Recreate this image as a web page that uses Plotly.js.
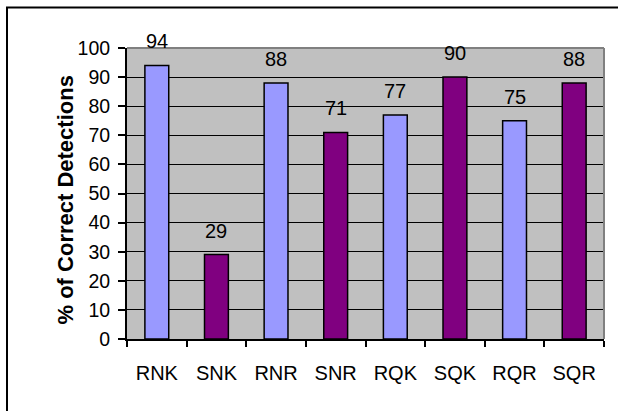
<!DOCTYPE html>
<html>
<head>
<meta charset="utf-8">
<script src="https://cdn.plot.ly/plotly-3.0.1.min.js"></script>
<style>
  html, body { margin: 0; padding: 0; background: #ffffff; }
  #chart { width: 618px; height: 411px; }
</style>
</head>
<body>
<div id="chart"></div>
<script>
const categories = ["RNK", "SNK", "RNR", "SNR", "RQK", "SQK", "RQR", "SQR"];
const values = [94, 29, 88, 71, 77, 90, 75, 88];
const barColors = ["#9999FF", "#800080", "#9999FF", "#800080", "#9999FF", "#800080", "#9999FF", "#800080"];
const yTickValues = [0, 10, 20, 30, 40, 50, 60, 70, 80, 90, 100];
const yAxisTitle = "% of Correct Detections";

const FONT = "Liberation Sans, Arial, sans-serif";

const trace = {
  type: "bar",
  x: categories,
  y: values,
  width: 0.4,
  marker: { color: barColors, line: { color: "#000000", width: 1.5 } },
  hoverinfo: "x+y"
};

const annotations = categories.map((c, i) => ({
  x: c, y: values[i], xref: "x", yref: "y",
  text: String(values[i]), showarrow: false,
  yanchor: "middle", yshift: 24,
  font: { family: FONT, size: 20, color: "#000000" }
}));

// plot area: left 127, right 604, top 48, bottom 339
const pw = 477, ph = 291;
annotations.push({
  xref: "paper", yref: "paper",
  x: (65.5 - 127) / pw, y: (339 - 200) / ph,
  xanchor: "center", yanchor: "middle",
  text: "<b>" + yAxisTitle + "</b>", textangle: -90, showarrow: false,
  font: { family: FONT, size: 22, color: "#000000" }
});

const shapes = [
  { type: "line", xref: "paper", yref: "paper", x0: 0, x1: 1, y0: 1, y1: 1, line: { color: "#808080", width: 2 } },
  { type: "line", xref: "paper", yref: "paper", x0: 1, x1: 1, y0: 0, y1: 1, line: { color: "#808080", width: 2 } },
  { type: "rect", xref: "paper", yref: "paper",
    x0: (7 - 127) / pw, x1: (625 - 127) / pw,
    y0: (339 - 420) / ph, y1: (339 - 7.5) / ph,
    line: { color: "#000000", width: 2 }, fillcolor: "rgba(0,0,0,0)" }
];

const layout = {
  width: 618, height: 411,
  margin: { l: 127, r: 14, t: 48, b: 72, pad: 0 },
  paper_bgcolor: "#ffffff",
  plot_bgcolor: "#C0C0C0",
  showlegend: false,
  font: { family: FONT, size: 20, color: "#000000" },
  xaxis: {
    type: "category",
    tickson: "boundaries",
    ticks: "outside", ticklen: 6, tickwidth: 2, tickcolor: "#000000",
    showline: true, linecolor: "#000000", linewidth: 2,
    showgrid: false,
    ticklabelstandoff: 15,
    tickfont: { family: FONT, size: 20, color: "#000000" },
    fixedrange: true
  },
  yaxis: {
    range: [0, 100],
    tickvals: yTickValues,
    ticks: "outside", ticklen: 7, tickwidth: 2, tickcolor: "#000000",
    showline: true, linecolor: "#000000", linewidth: 2,
    showgrid: true, gridcolor: "#000000", gridwidth: 1,
    zeroline: false,
    ticklabelstandoff: 4,
    tickfont: { family: FONT, size: 19.5, color: "#000000" },
    fixedrange: true
  },
  annotations: annotations,
  shapes: shapes
};

Plotly.newPlot("chart", [trace], layout, { displayModeBar: false, staticPlot: true });
</script>
</body>
</html>
